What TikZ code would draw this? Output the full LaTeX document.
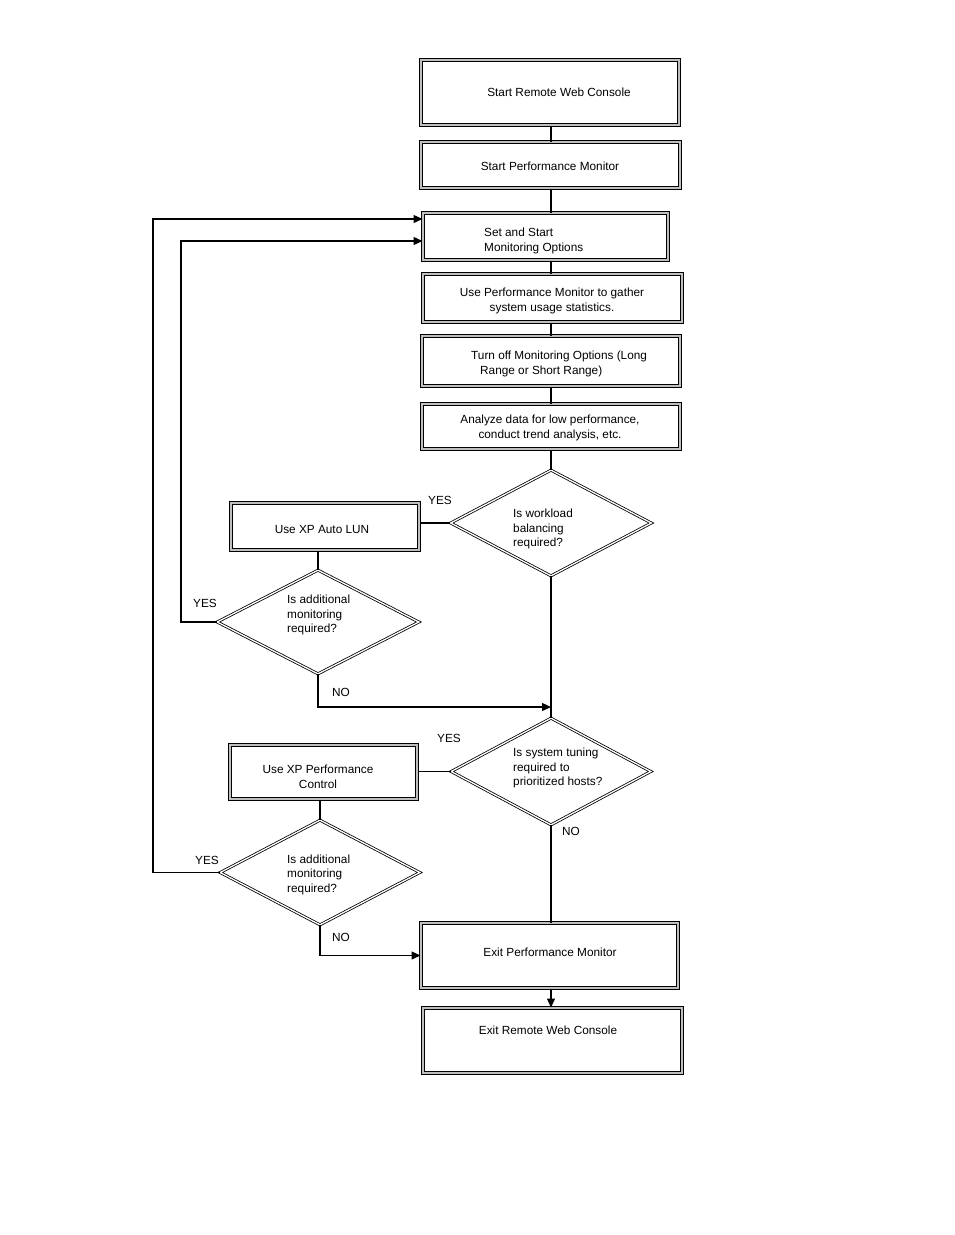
\documentclass[tikz,border=0pt]{standalone}
\usepackage{fontspec}
\setmainfont{Liberation Sans}
\usetikzlibrary{shapes.geometric,arrows.meta,calc}
\newcommand{\fsz}{\fontsize{11.8}{14.5}\selectfont}
\begin{document}
\begin{tikzpicture}[x=1pt,y=-1pt,
  box/.style={draw=black, line width=1pt, double=gray!50, double distance=2pt,
              inner sep=0pt},
  dec/.style={diamond, draw=black, line width=0.8pt, double=white, double distance=1.3pt,
              inner sep=0pt},
  txt/.style={font=\fsz, inner sep=0pt, align=center},
  ltxt/.style={font=\fsz, inner sep=0pt, align=left, anchor=west},
  lbl/.style={font=\fsz, inner sep=0pt},
  conn/.style={line width=1.3pt},
  arr/.style={conn, -{Triangle[length=9pt,width=8pt]}}]
\fill[white] (0,0) rectangle (954,1235);
\useasboundingbox (0,0) rectangle (954,1235);

% boxes
\node[box, minimum width=258, minimum height=65] (b1) at (550,92.5) {};
\node[box, minimum width=259, minimum height=46] (b2) at (550.5,165) {};
\node[box, minimum width=245, minimum height=47] (b3) at (545.5,236.5) {};
\node[box, minimum width=259, minimum height=48] (b4) at (552.5,298) {};
\node[box, minimum width=258, minimum height=50] (b5) at (551,361) {};
\node[box, minimum width=258, minimum height=45] (b6) at (551,426.5) {};
\node[dec, minimum width=201, minimum height=106] (d1) at (551,523) {};
\node[box, minimum width=188, minimum height=47] (lun) at (325,526.5) {};
\node[dec, minimum width=202, minimum height=104] (d2) at (318,622) {};
\node[dec, minimum width=200, minimum height=107] (d3) at (551,771.5) {};
\node[box, minimum width=187, minimum height=54] (pc) at (323.5,772) {};
\node[dec, minimum width=200, minimum height=105] (d4) at (320,872.5) {};
\node[box, minimum width=257, minimum height=65] (e1) at (549.5,955.5) {};
\node[box, minimum width=259, minimum height=65] (e2) at (552.5,1040.5) {};

% texts
\node[txt] (t1) at (559,92) {Start Remote Web Console};
\node[txt] (t2) at (550,166) {Start Performance Monitor};
\node[ltxt] (t3) at (484,241) {Set and Start\\Monitoring Options};
\node[txt] (t4) at (552,301) {Use Performance Monitor to gather\\system usage statistics.};
\node[ltxt] (t5) at (471,364) {Turn off Monitoring Options (Long\\\hspace*{9pt}Range or Short Range)};
\node[txt] (t6) at (550,428) {Analyze data for low performance,\\conduct trend analysis, etc.};
\node[ltxt] (td1) at (513,529) {Is workload\\balancing\\required?};
\node[txt] (tlun) at (322,529) {Use XP Auto LUN};
\node[ltxt] (td2) at (287,615) {Is additional\\monitoring\\required?};
\node[ltxt] (td3) at (513,768) {Is system tuning\\required to\\prioritized hosts?};
\node[txt] (tpc) at (318,777) {Use XP Performance\\Control};
\node[ltxt] (td4) at (287,874.5) {Is additional\\monitoring\\required?};
\node[txt] (te1) at (550,952) {Exit Performance Monitor};
\node[txt] (te2) at (548,1030) {Exit Remote Web Console};

% labels
\node[lbl] (y1) at (440,500) {YES};
\node[lbl] (y2) at (205,603) {YES};
\node[lbl] (n1) at (341,692) {NO};
\node[lbl] (y3) at (449,738) {YES};
\node[lbl] (n2) at (571,831) {NO};
\node[lbl] (y4) at (207,860) {YES};
\node[lbl] (n3) at (341,937) {NO};

% helper coordinates
\coordinate (loop1) at (153,0);
\coordinate (loop2) at (181,0);
\coordinate (in1) at (b3.west |- 0,219);
\coordinate (in2) at (b3.west |- 0,241);
\coordinate (j1) at (d1.south |- 0,707);
\coordinate (mx) at (551,0);

% connectors
\draw[conn] (b1.south -| mx) -- (b2.north -| mx);
\draw[conn] (b2.south -| mx) -- (b3.north -| mx);
\draw[conn] (b3.south -| mx) -- (b4.north -| mx);
\draw[conn] (b4.south -| mx) -- (b5.north -| mx);
\draw[conn] (b5.south) -- (b6.north);
\draw[conn] (b6.south) -- (d1.north);
\draw[conn] (d1.south) -- (d3.north);
\draw[conn] (d1.west) -- (d1.west -| lun.east);
\draw[conn] (d2.north |- lun.south) -- (d2.north);
\draw[arr] (d2.west) -- (d2.west -| loop2) |- (in2);
\draw[arr] (d2.south) |- (j1);
\draw[conn] (d3.west) -- (d3.west -| pc.east);
\draw[conn] (d4.north |- pc.south) -- (d4.north);
\draw[arr] (d4.west) -- (d4.west -| loop1) |- (in1);
\draw[conn] (d3.south) -- (d3.south |- e1.north);
\draw[arr] (d4.south) |- (e1.west);
\draw[arr] (e1.south -| mx) -- (e2.north -| mx);
\end{tikzpicture}
\end{document}
